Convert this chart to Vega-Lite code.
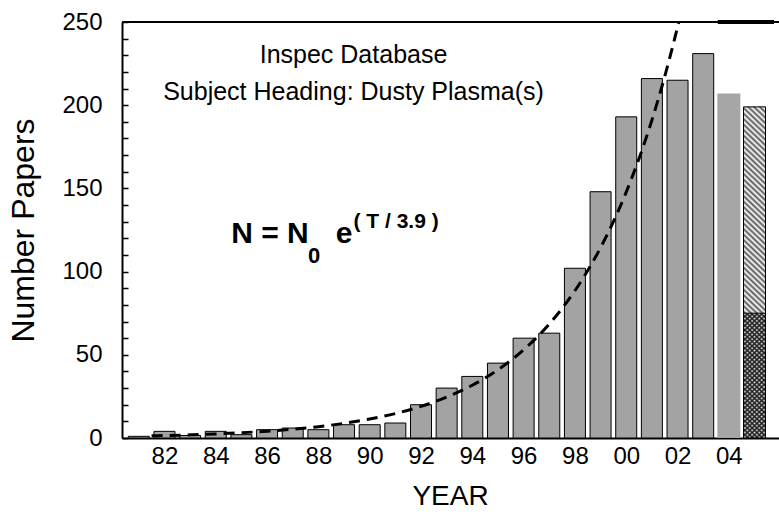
{
  "$schema": "https://vega.github.io/schema/vega-lite/v6.json",
  "width": 657,
  "height": 416,
  "autosize": {"type": "none"},
  "padding": {"left": 122, "top": 22, "right": 0, "bottom": 77},
  "background": "white",
  "view": {"stroke": null},
  "config": {"font": "Liberation Sans"},
  "data": {"values": [{}]},
  "datasets": {
    "bars": [
      {"year": 1981, "papers": 1, "kind": "full"},
      {"year": 1982, "papers": 4, "kind": "full"},
      {"year": 1983, "papers": 1.5, "kind": "full"},
      {"year": 1984, "papers": 4, "kind": "full"},
      {"year": 1985, "papers": 2, "kind": "full"},
      {"year": 1986, "papers": 5, "kind": "full"},
      {"year": 1987, "papers": 6, "kind": "full"},
      {"year": 1988, "papers": 5, "kind": "full"},
      {"year": 1989, "papers": 8, "kind": "full"},
      {"year": 1990, "papers": 8, "kind": "full"},
      {"year": 1991, "papers": 9, "kind": "full"},
      {"year": 1992, "papers": 20, "kind": "full"},
      {"year": 1993, "papers": 30, "kind": "full"},
      {"year": 1994, "papers": 37, "kind": "full"},
      {"year": 1995, "papers": 45, "kind": "full"},
      {"year": 1996, "papers": 60, "kind": "full"},
      {"year": 1997, "papers": 63, "kind": "full"},
      {"year": 1998, "papers": 102, "kind": "full"},
      {"year": 1999, "papers": 148, "kind": "full"},
      {"year": 2000, "papers": 193, "kind": "full"},
      {"year": 2001, "papers": 216, "kind": "full"},
      {"year": 2002, "papers": 215, "kind": "full"},
      {"year": 2003, "papers": 231, "kind": "full"},
      {"year": 2004, "papers": 207, "kind": "partial"},
      {"year": 2005, "papers": 199, "kind": "projected"},
      {"year": 2005, "papers": 75, "kind": "to date"}
    ],
    "fit": [
      {"year": 1981.5, "papers": 1.3},
      {"year": 1982, "papers": 1.46},
      {"year": 1983, "papers": 1.89},
      {"year": 1984, "papers": 2.44},
      {"year": 1985, "papers": 3.16},
      {"year": 1986, "papers": 4.08},
      {"year": 1987, "papers": 5.27},
      {"year": 1988, "papers": 6.82},
      {"year": 1989, "papers": 8.8},
      {"year": 1990, "papers": 11.4},
      {"year": 1991, "papers": 14.7},
      {"year": 1992, "papers": 19},
      {"year": 1993, "papers": 24.6},
      {"year": 1994, "papers": 31.7},
      {"year": 1995, "papers": 41},
      {"year": 1996, "papers": 53},
      {"year": 1997, "papers": 68.5},
      {"year": 1997.5, "papers": 77.9},
      {"year": 1998, "papers": 88.5},
      {"year": 1998.5, "papers": 100.6},
      {"year": 1999, "papers": 114.4},
      {"year": 1999.5, "papers": 130},
      {"year": 2000, "papers": 147.8},
      {"year": 2000.5, "papers": 168},
      {"year": 2001, "papers": 191},
      {"year": 2001.5, "papers": 217.2},
      {"year": 2002.05, "papers": 250}
    ]
  },
  "layer": [
    {
      "data": {"name": "bars"},
      "transform": [{"filter": "datum.kind === 'full'"}],
      "mark": {"type": "bar", "orient": "vertical", "size": 21, "fill": "#a3a3a3", "stroke": "black", "strokeWidth": 1},
      "encoding": {
        "x": {
          "field": "year", "type": "quantitative",
          "scale": {"domain": [1980.54, 2005.76], "nice": false, "zero": false},
          "axis": {
            "values": [1982, 1984, 1986, 1988, 1990, 1992, 1994, 1996, 1998, 2000, 2002, 2004],
            "tickCount": 40,
            "format": "d", "labelExpr": "slice(datum.label, 2)",
            "ticks": false, "grid": false,
            "domainColor": "black", "domainWidth": 2,
            "labelFontSize": 24, "labelColor": "black", "labelPadding": 6, "labelFlush": false, "labelOverlap": false,
            "title": "YEAR", "titleFontSize": 28, "titleFontWeight": "normal", "titleColor": "black",
            "titleX": 328, "titleY": 58, "titleAlign": "center", "titleBaseline": "middle"
          }
        },
        "y": {
          "field": "papers", "type": "quantitative",
          "scale": {"domain": [0, 250], "nice": false},
          "axis": {
            "values": [0, 10, 20, 30, 40, 50, 60, 70, 80, 90, 100, 110, 120, 130, 140, 150, 160, 170, 180, 190, 200, 210, 220, 230, 240, 250],
            "tickCount": 40,
            "labelExpr": "datum.value % 50 === 0 ? datum.label : ''",
            "tickSize": -6, "tickColor": "black", "tickWidth": 1.5, "grid": false,
            "domainColor": "black", "domainWidth": 2,
            "labelFontSize": 24, "labelColor": "black", "labelPadding": 26, "labelFlush": false, "labelOverlap": false,
            "title": "Number Papers", "titleFontSize": 32, "titleFontWeight": "normal", "titleColor": "black",
            "titleAngle": -90, "titleX": -99, "titleY": 208, "titleAlign": "center", "titleBaseline": "middle"
          }
        }
      }
    },
    {
      "data": {"name": "bars"},
      "transform": [{"filter": "datum.kind === 'partial'"}],
      "mark": {"type": "bar", "orient": "vertical", "size": 23, "fill": "#a6a6a6"},
      "encoding": {
        "x": {"field": "year", "type": "quantitative"},
        "y": {"field": "papers", "type": "quantitative"}
      }
    },
    {
      "data": {"name": "bars"},
      "transform": [{"filter": "datum.kind === 'projected'"}],
      "mark": {
        "type": "bar", "orient": "vertical", "size": 22, "stroke": "black", "strokeWidth": 1,
        "fill": {
          "gradient": "linear", "x1": 1, "y1": 0, "x2": 0.9328, "y2": 1.0591,
          "stops": [
            {"offset": 0, "color": "#555"}, {"offset": 0.0078, "color": "#fff"}, {"offset": 0.0156, "color": "#555"}, {"offset": 0.0234, "color": "#fff"},
            {"offset": 0.0313, "color": "#555"}, {"offset": 0.0391, "color": "#fff"}, {"offset": 0.0469, "color": "#555"}, {"offset": 0.0547, "color": "#fff"},
            {"offset": 0.0625, "color": "#555"}, {"offset": 0.0703, "color": "#fff"}, {"offset": 0.0781, "color": "#555"}, {"offset": 0.0859, "color": "#fff"},
            {"offset": 0.0938, "color": "#555"}, {"offset": 0.1016, "color": "#fff"}, {"offset": 0.1094, "color": "#555"}, {"offset": 0.1172, "color": "#fff"},
            {"offset": 0.125, "color": "#555"}, {"offset": 0.1328, "color": "#fff"}, {"offset": 0.1406, "color": "#555"}, {"offset": 0.1484, "color": "#fff"},
            {"offset": 0.1563, "color": "#555"}, {"offset": 0.1641, "color": "#fff"}, {"offset": 0.1719, "color": "#555"}, {"offset": 0.1797, "color": "#fff"},
            {"offset": 0.1875, "color": "#555"}, {"offset": 0.1953, "color": "#fff"}, {"offset": 0.2031, "color": "#555"}, {"offset": 0.2109, "color": "#fff"},
            {"offset": 0.2188, "color": "#555"}, {"offset": 0.2266, "color": "#fff"}, {"offset": 0.2344, "color": "#555"}, {"offset": 0.2422, "color": "#fff"},
            {"offset": 0.25, "color": "#555"}, {"offset": 0.2578, "color": "#fff"}, {"offset": 0.2656, "color": "#555"}, {"offset": 0.2734, "color": "#fff"},
            {"offset": 0.2813, "color": "#555"}, {"offset": 0.2891, "color": "#fff"}, {"offset": 0.2969, "color": "#555"}, {"offset": 0.3047, "color": "#fff"},
            {"offset": 0.3125, "color": "#555"}, {"offset": 0.3203, "color": "#fff"}, {"offset": 0.3281, "color": "#555"}, {"offset": 0.3359, "color": "#fff"},
            {"offset": 0.3438, "color": "#555"}, {"offset": 0.3516, "color": "#fff"}, {"offset": 0.3594, "color": "#555"}, {"offset": 0.3672, "color": "#fff"},
            {"offset": 0.375, "color": "#555"}, {"offset": 0.3828, "color": "#fff"}, {"offset": 0.3906, "color": "#555"}, {"offset": 0.3984, "color": "#fff"},
            {"offset": 0.4063, "color": "#555"}, {"offset": 0.4141, "color": "#fff"}, {"offset": 0.4219, "color": "#555"}, {"offset": 0.4297, "color": "#fff"},
            {"offset": 0.4375, "color": "#555"}, {"offset": 0.4453, "color": "#fff"}, {"offset": 0.4531, "color": "#555"}, {"offset": 0.4609, "color": "#fff"},
            {"offset": 0.4688, "color": "#555"}, {"offset": 0.4766, "color": "#fff"}, {"offset": 0.4844, "color": "#555"}, {"offset": 0.4922, "color": "#fff"},
            {"offset": 0.5, "color": "#555"}, {"offset": 0.5078, "color": "#fff"}, {"offset": 0.5156, "color": "#555"}, {"offset": 0.5234, "color": "#fff"},
            {"offset": 0.5313, "color": "#555"}, {"offset": 0.5391, "color": "#fff"}, {"offset": 0.5469, "color": "#555"}, {"offset": 0.5547, "color": "#fff"},
            {"offset": 0.5625, "color": "#555"}, {"offset": 0.5703, "color": "#fff"}, {"offset": 0.5781, "color": "#555"}, {"offset": 0.5859, "color": "#fff"},
            {"offset": 0.5938, "color": "#555"}, {"offset": 0.6016, "color": "#fff"}, {"offset": 0.6094, "color": "#555"}, {"offset": 0.6172, "color": "#fff"},
            {"offset": 0.625, "color": "#555"}, {"offset": 0.6328, "color": "#fff"}, {"offset": 0.6406, "color": "#555"}, {"offset": 0.6484, "color": "#fff"},
            {"offset": 0.6563, "color": "#555"}, {"offset": 0.6641, "color": "#fff"}, {"offset": 0.6719, "color": "#555"}, {"offset": 0.6797, "color": "#fff"},
            {"offset": 0.6875, "color": "#555"}, {"offset": 0.6953, "color": "#fff"}, {"offset": 0.7031, "color": "#555"}, {"offset": 0.7109, "color": "#fff"},
            {"offset": 0.7188, "color": "#555"}, {"offset": 0.7266, "color": "#fff"}, {"offset": 0.7344, "color": "#555"}, {"offset": 0.7422, "color": "#fff"},
            {"offset": 0.75, "color": "#555"}, {"offset": 0.7578, "color": "#fff"}, {"offset": 0.7656, "color": "#555"}, {"offset": 0.7734, "color": "#fff"},
            {"offset": 0.7813, "color": "#555"}, {"offset": 0.7891, "color": "#fff"}, {"offset": 0.7969, "color": "#555"}, {"offset": 0.8047, "color": "#fff"},
            {"offset": 0.8125, "color": "#555"}, {"offset": 0.8203, "color": "#fff"}, {"offset": 0.8281, "color": "#555"}, {"offset": 0.8359, "color": "#fff"},
            {"offset": 0.8438, "color": "#555"}, {"offset": 0.8516, "color": "#fff"}, {"offset": 0.8594, "color": "#555"}, {"offset": 0.8672, "color": "#fff"},
            {"offset": 0.875, "color": "#555"}, {"offset": 0.8828, "color": "#fff"}, {"offset": 0.8906, "color": "#555"}, {"offset": 0.8984, "color": "#fff"},
            {"offset": 0.9063, "color": "#555"}, {"offset": 0.9141, "color": "#fff"}, {"offset": 0.9219, "color": "#555"}, {"offset": 0.9297, "color": "#fff"},
            {"offset": 0.9375, "color": "#555"}, {"offset": 0.9453, "color": "#fff"}, {"offset": 0.9531, "color": "#555"}, {"offset": 0.9609, "color": "#fff"},
            {"offset": 0.9688, "color": "#555"}, {"offset": 0.9766, "color": "#fff"}, {"offset": 0.9844, "color": "#555"}, {"offset": 0.9922, "color": "#fff"},
            {"offset": 1, "color": "#555"}
          ]
        }
      },
      "encoding": {
        "x": {"field": "year", "type": "quantitative"},
        "y": {"field": "papers", "type": "quantitative"}
      }
    },
    {
      "data": {"name": "bars"},
      "transform": [{"filter": "datum.kind === 'to date'"}],
      "mark": {
        "type": "bar", "orient": "vertical", "size": 22, "stroke": "black", "strokeWidth": 1,
        "fill": {
          "gradient": "linear", "x1": 1, "y1": 0, "x2": 0.8088, "y2": 1.1361,
          "stops": [
            {"offset": 0, "color": "#222"}, {"offset": 0.0156, "color": "#fff"}, {"offset": 0.0313, "color": "#222"}, {"offset": 0.0469, "color": "#fff"},
            {"offset": 0.0625, "color": "#222"}, {"offset": 0.0781, "color": "#fff"}, {"offset": 0.0938, "color": "#222"}, {"offset": 0.1094, "color": "#fff"},
            {"offset": 0.125, "color": "#222"}, {"offset": 0.1406, "color": "#fff"}, {"offset": 0.1563, "color": "#222"}, {"offset": 0.1719, "color": "#fff"},
            {"offset": 0.1875, "color": "#222"}, {"offset": 0.2031, "color": "#fff"}, {"offset": 0.2188, "color": "#222"}, {"offset": 0.2344, "color": "#fff"},
            {"offset": 0.25, "color": "#222"}, {"offset": 0.2656, "color": "#fff"}, {"offset": 0.2813, "color": "#222"}, {"offset": 0.2969, "color": "#fff"},
            {"offset": 0.3125, "color": "#222"}, {"offset": 0.3281, "color": "#fff"}, {"offset": 0.3438, "color": "#222"}, {"offset": 0.3594, "color": "#fff"},
            {"offset": 0.375, "color": "#222"}, {"offset": 0.3906, "color": "#fff"}, {"offset": 0.4063, "color": "#222"}, {"offset": 0.4219, "color": "#fff"},
            {"offset": 0.4375, "color": "#222"}, {"offset": 0.4531, "color": "#fff"}, {"offset": 0.4688, "color": "#222"}, {"offset": 0.4844, "color": "#fff"},
            {"offset": 0.5, "color": "#222"}, {"offset": 0.5156, "color": "#fff"}, {"offset": 0.5313, "color": "#222"}, {"offset": 0.5469, "color": "#fff"},
            {"offset": 0.5625, "color": "#222"}, {"offset": 0.5781, "color": "#fff"}, {"offset": 0.5938, "color": "#222"}, {"offset": 0.6094, "color": "#fff"},
            {"offset": 0.625, "color": "#222"}, {"offset": 0.6406, "color": "#fff"}, {"offset": 0.6563, "color": "#222"}, {"offset": 0.6719, "color": "#fff"},
            {"offset": 0.6875, "color": "#222"}, {"offset": 0.7031, "color": "#fff"}, {"offset": 0.7188, "color": "#222"}, {"offset": 0.7344, "color": "#fff"},
            {"offset": 0.75, "color": "#222"}, {"offset": 0.7656, "color": "#fff"}, {"offset": 0.7813, "color": "#222"}, {"offset": 0.7969, "color": "#fff"},
            {"offset": 0.8125, "color": "#222"}, {"offset": 0.8281, "color": "#fff"}, {"offset": 0.8438, "color": "#222"}, {"offset": 0.8594, "color": "#fff"},
            {"offset": 0.875, "color": "#222"}, {"offset": 0.8906, "color": "#fff"}, {"offset": 0.9063, "color": "#222"}, {"offset": 0.9219, "color": "#fff"},
            {"offset": 0.9375, "color": "#222"}, {"offset": 0.9531, "color": "#fff"}, {"offset": 0.9688, "color": "#222"}, {"offset": 0.9844, "color": "#fff"},
            {"offset": 1, "color": "#222"}
          ]
        }
      },
      "encoding": {
        "x": {"field": "year", "type": "quantitative"},
        "y": {"field": "papers", "type": "quantitative"}
      }
    },
    {
      "data": {"name": "bars"},
      "transform": [{"filter": "datum.kind === 'to date'"}],
      "mark": {
        "type": "bar", "orient": "vertical", "size": 22,
        "fill": {
          "gradient": "linear", "x1": 0, "y1": 0, "x2": 0.1912, "y2": 1.1361,
          "stops": [
            {"offset": 0, "color": "#222"}, {"offset": 0.0156, "color": "rgba(0,0,0,0)"}, {"offset": 0.0313, "color": "#222"}, {"offset": 0.0469, "color": "rgba(0,0,0,0)"},
            {"offset": 0.0625, "color": "#222"}, {"offset": 0.0781, "color": "rgba(0,0,0,0)"}, {"offset": 0.0938, "color": "#222"}, {"offset": 0.1094, "color": "rgba(0,0,0,0)"},
            {"offset": 0.125, "color": "#222"}, {"offset": 0.1406, "color": "rgba(0,0,0,0)"}, {"offset": 0.1563, "color": "#222"}, {"offset": 0.1719, "color": "rgba(0,0,0,0)"},
            {"offset": 0.1875, "color": "#222"}, {"offset": 0.2031, "color": "rgba(0,0,0,0)"}, {"offset": 0.2188, "color": "#222"}, {"offset": 0.2344, "color": "rgba(0,0,0,0)"},
            {"offset": 0.25, "color": "#222"}, {"offset": 0.2656, "color": "rgba(0,0,0,0)"}, {"offset": 0.2813, "color": "#222"}, {"offset": 0.2969, "color": "rgba(0,0,0,0)"},
            {"offset": 0.3125, "color": "#222"}, {"offset": 0.3281, "color": "rgba(0,0,0,0)"}, {"offset": 0.3438, "color": "#222"}, {"offset": 0.3594, "color": "rgba(0,0,0,0)"},
            {"offset": 0.375, "color": "#222"}, {"offset": 0.3906, "color": "rgba(0,0,0,0)"}, {"offset": 0.4063, "color": "#222"}, {"offset": 0.4219, "color": "rgba(0,0,0,0)"},
            {"offset": 0.4375, "color": "#222"}, {"offset": 0.4531, "color": "rgba(0,0,0,0)"}, {"offset": 0.4688, "color": "#222"}, {"offset": 0.4844, "color": "rgba(0,0,0,0)"},
            {"offset": 0.5, "color": "#222"}, {"offset": 0.5156, "color": "rgba(0,0,0,0)"}, {"offset": 0.5313, "color": "#222"}, {"offset": 0.5469, "color": "rgba(0,0,0,0)"},
            {"offset": 0.5625, "color": "#222"}, {"offset": 0.5781, "color": "rgba(0,0,0,0)"}, {"offset": 0.5938, "color": "#222"}, {"offset": 0.6094, "color": "rgba(0,0,0,0)"},
            {"offset": 0.625, "color": "#222"}, {"offset": 0.6406, "color": "rgba(0,0,0,0)"}, {"offset": 0.6563, "color": "#222"}, {"offset": 0.6719, "color": "rgba(0,0,0,0)"},
            {"offset": 0.6875, "color": "#222"}, {"offset": 0.7031, "color": "rgba(0,0,0,0)"}, {"offset": 0.7188, "color": "#222"}, {"offset": 0.7344, "color": "rgba(0,0,0,0)"},
            {"offset": 0.75, "color": "#222"}, {"offset": 0.7656, "color": "rgba(0,0,0,0)"}, {"offset": 0.7813, "color": "#222"}, {"offset": 0.7969, "color": "rgba(0,0,0,0)"},
            {"offset": 0.8125, "color": "#222"}, {"offset": 0.8281, "color": "rgba(0,0,0,0)"}, {"offset": 0.8438, "color": "#222"}, {"offset": 0.8594, "color": "rgba(0,0,0,0)"},
            {"offset": 0.875, "color": "#222"}, {"offset": 0.8906, "color": "rgba(0,0,0,0)"}, {"offset": 0.9063, "color": "#222"}, {"offset": 0.9219, "color": "rgba(0,0,0,0)"},
            {"offset": 0.9375, "color": "#222"}, {"offset": 0.9531, "color": "rgba(0,0,0,0)"}, {"offset": 0.9688, "color": "#222"}, {"offset": 0.9844, "color": "rgba(0,0,0,0)"},
            {"offset": 1, "color": "#222"}
          ]
        }
      },
      "encoding": {
        "x": {"field": "year", "type": "quantitative"},
        "y": {"field": "papers", "type": "quantitative"}
      }
    },
    {
      "data": {"name": "fit"},
      "mark": {"type": "line", "color": "black", "strokeWidth": 3, "strokeDash": [11, 7], "interpolate": "monotone", "clip": true},
      "encoding": {
        "x": {"field": "year", "type": "quantitative"},
        "y": {"field": "papers", "type": "quantitative"}
      }
    },
    {
      "mark": {"type": "rule", "color": "black", "strokeWidth": 2},
      "encoding": {"y": {"datum": 250, "type": "quantitative"}}
    },
    {
      "mark": {"type": "rule", "color": "black", "strokeWidth": 4},
      "encoding": {
        "x": {"datum": 2003.57, "type": "quantitative"},
        "x2": {"datum": 2005.76},
        "y": {"datum": 250, "type": "quantitative"}
      }
    },
    {
      "mark": {"type": "text", "fontSize": 25, "align": "center", "baseline": "alphabetic", "color": "black"},
      "encoding": {
        "x": {"datum": 1989.37, "type": "quantitative"},
        "y": {"datum": 225.3, "type": "quantitative"},
        "text": {"value": "Inspec Database"}
      }
    },
    {
      "mark": {"type": "text", "fontSize": 25, "align": "center", "baseline": "alphabetic", "color": "black"},
      "encoding": {
        "x": {"datum": 1989.37, "type": "quantitative"},
        "y": {"datum": 203, "type": "quantitative"},
        "text": {"value": "Subject Heading: Dusty Plasma(s)"}
      }
    },
    {
      "mark": {"type": "text", "fontSize": 30, "fontWeight": "bold", "align": "left", "baseline": "alphabetic", "color": "black"},
      "encoding": {
        "x": {"datum": 1984.6, "type": "quantitative"},
        "y": {"datum": 117, "type": "quantitative"},
        "text": {"value": "N = N"}
      }
    },
    {
      "mark": {"type": "text", "fontSize": 22, "fontWeight": "bold", "align": "left", "baseline": "alphabetic", "color": "black"},
      "encoding": {
        "x": {"datum": 1987.6, "type": "quantitative"},
        "y": {"datum": 105.3, "type": "quantitative"},
        "text": {"value": "0"}
      }
    },
    {
      "mark": {"type": "text", "fontSize": 30, "fontWeight": "bold", "align": "left", "baseline": "alphabetic", "color": "black"},
      "encoding": {
        "x": {"datum": 1988.68, "type": "quantitative"},
        "y": {"datum": 117, "type": "quantitative"},
        "text": {"value": "e"}
      }
    },
    {
      "mark": {"type": "text", "fontSize": 21, "fontWeight": "bold", "align": "left", "baseline": "alphabetic", "color": "black"},
      "encoding": {
        "x": {"datum": 1989.37, "type": "quantitative"},
        "y": {"datum": 126, "type": "quantitative"},
        "text": {"value": "( T / 3.9 )"}
      }
    }
  ]
}
